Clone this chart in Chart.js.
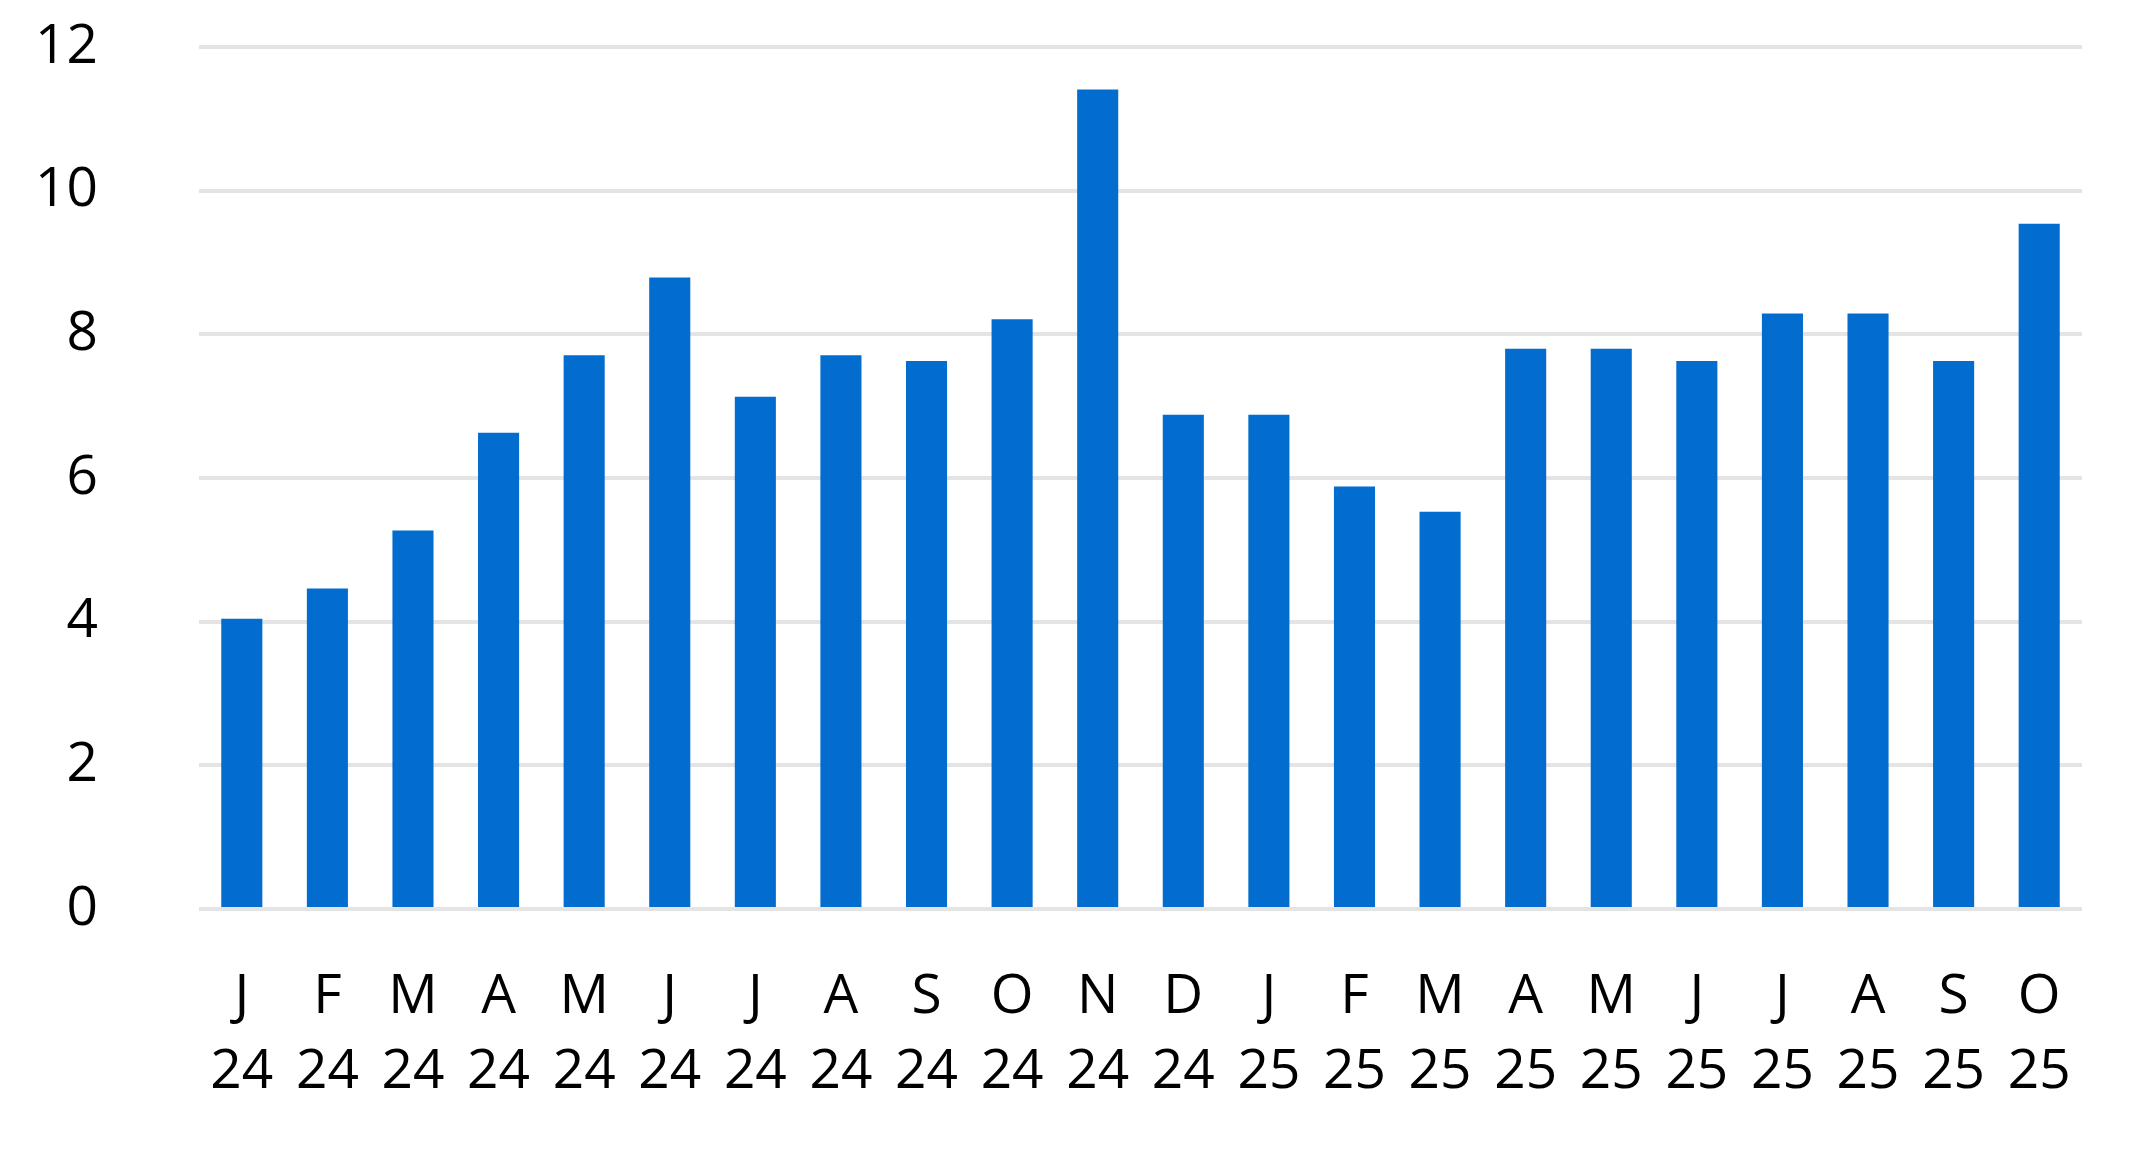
<!DOCTYPE html>
<html>
<head>
<meta charset="utf-8">
<script src="https://cdn.jsdelivr.net/npm/chart.js@4.4.1/dist/chart.umd.min.js"></script>
<style>
  html, body { margin: 0; padding: 0; background: #fff; }
  #wrap { width: 2130px; height: 1152px; position: relative; }
</style>
</head>
<body>
<div id="wrap"><canvas id="barChart"></canvas></div>
<script>
// month initials and two-digit years, Jan 24 .. Oct 25
const months = ['J', 'F', 'M', 'A', 'M', 'J', 'J', 'A', 'S', 'O', 'N', 'D',
                'J', 'F', 'M', 'A', 'M', 'J', 'J', 'A', 'S', 'O'];
const years = ['24', '24', '24', '24', '24', '24', '24', '24', '24', '24', '24', '24',
               '25', '25', '25', '25', '25', '25', '25', '25', '25', '25'];
const values = [4.04, 4.46, 5.27, 6.63, 7.71, 8.79, 7.13, 7.71, 7.63, 8.21, 11.41, 6.88,
                6.88, 5.88, 5.53, 7.80, 7.80, 7.63, 8.29, 8.29, 7.63, 9.54];
const yTicks = [0, 2, 4, 6, 8, 10, 12];

const labels = months.map((m, i) => [m, years[i]]);
const fontFamily = '"Open Sans", "Noto Sans", sans-serif';

const ctx = document.getElementById('barChart').getContext('2d');

let barChart = new Chart(ctx, {
    type: 'bar',
    data: {
        labels: labels,
        datasets: [{
            data: values,
            backgroundColor: '#036ccf',
            borderWidth: 0,
            barPercentage: 0.48,
            categoryPercentage: 1.0
        }]
    },
    options: {
        responsive: true,
        maintainAspectRatio: false,
        animation: false,
        layout: {
            padding: { top: 47, right: 48, bottom: 0, left: 0 }
        },
        plugins: {
            legend: { display: false },
            tooltip: { enabled: false }
        },
        scales: {
            x: {
                grid: { display: false, drawTicks: false },
                border: { display: false },
                ticks: {
                    color: '#000',
                    padding: 51,
                    maxRotation: 0,
                    autoSkip: false,
                    font: { family: fontFamily, size: 55, lineHeight: 1.36 }
                },
                afterFit: (scale) => { scale.height = 243; }
            },
            y: {
                min: 0,
                max: 12,
                afterBuildTicks: (scale) => {
                    scale.ticks = yTicks.map(v => ({ value: v }));
                },
                // invisible tick marks give the gap between labels and plot
                grid: {
                    color: '#e4e4e4',
                    lineWidth: 4,
                    drawTicks: true,
                    tickLength: 101,
                    tickColor: 'rgba(0,0,0,0)'
                },
                border: { display: false },
                ticks: {
                    color: '#000',
                    padding: 0,
                    font: { family: fontFamily, size: 55 }
                },
                afterFit: (scale) => { scale.width = 199; }
            }
        }
    }
});
</script>
</body>
</html>
